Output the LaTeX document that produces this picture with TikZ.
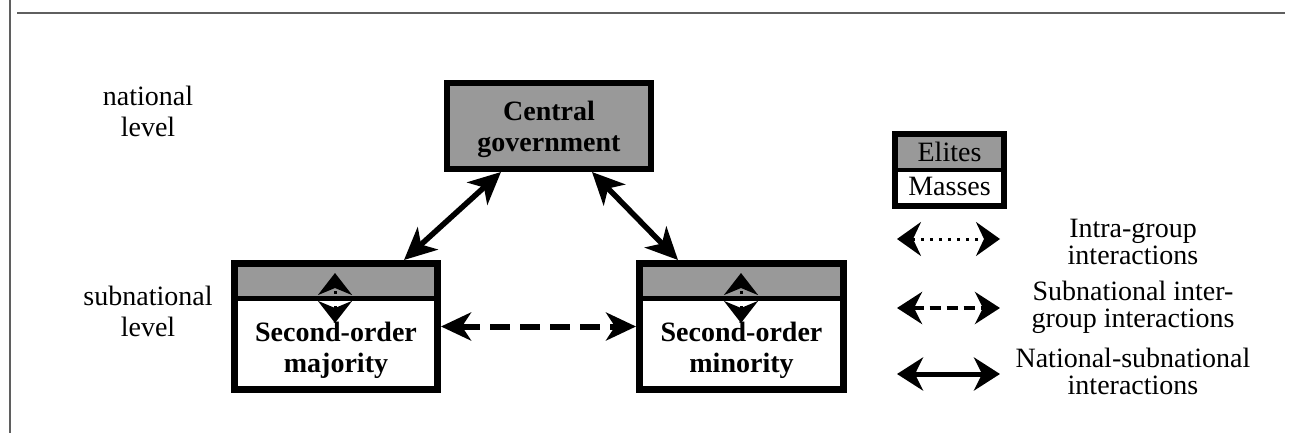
\documentclass[tikz,border=0pt]{standalone}
\usepackage{fontspec}
\setmainfont{Liberation Serif}
\usetikzlibrary{arrows.meta}
\definecolor{eliteGray}{RGB}{153,153,153}
\definecolor{frameGray}{RGB}{95,95,95}
\tikzset{
  boxlabel/.style={font=\fontsize{28}{31}\selectfont\bfseries, align=center, inner sep=0pt},
  levellabel/.style={font=\fontsize{28}{31}\selectfont, align=center, inner sep=0pt},
  legendtext/.style={font=\fontsize{28}{27.5}\selectfont, align=center, inner sep=0pt},
  legendword/.style={font=\fontsize{28}{31}\selectfont, inner sep=0pt, anchor=base},
  groupbox/.style={draw, fill=white, line width=7pt, minimum width=204pt, minimum height=126pt, inner sep=0pt},
  natarrow/.style={line width=5.5pt, {Stealth[length=32pt,width=30pt,inset=9pt]}-{Stealth[length=32pt,width=30pt,inset=9pt]}},
  interarrow/.style={line width=6pt, dash pattern=on 20pt off 10pt, {Stealth[length=30pt,width=28pt,inset=9pt]}-{Stealth[length=30pt,width=28pt,inset=9pt]}},
  intraarrow/.style={line width=3pt, dash pattern=on 2.5pt off 5pt, {Stealth[length=22pt,width=34pt,inset=7pt]}-{Stealth[length=22pt,width=34pt,inset=7pt]}},
  legdotted/.style={line width=3pt, dash pattern=on 3pt off 6pt, {Stealth[length=24pt,width=34pt,inset=8pt]}-{Stealth[length=24pt,width=34pt,inset=8pt]}},
  legdashed/.style={line width=4.5pt, dash pattern=on 11pt off 6pt, {Stealth[length=25pt,width=32pt,inset=8pt]}-{Stealth[length=25pt,width=32pt,inset=8pt]}},
  legsolid/.style={line width=5pt, {Stealth[length=26pt,width=33pt,inset=8pt]}-{Stealth[length=26pt,width=33pt,inset=8pt]}},
}
\begin{document}
\begin{tikzpicture}[x=1pt,y=-1pt]
\useasboundingbox (0,0) rectangle (1291,433);
% frame lines
\draw[frameGray, line width=1.8pt] (9.8,0) -- (9.8,433);
\draw[frameGray, line width=2pt] (17,13) -- (1285,13);

% level labels
\node[levellabel] (natlvl) at (148,111) {national\\level};
\node[levellabel] (sublvl) at (148,311) {subnational\\level};

% central government
\node[draw, fill=eliteGray, line width=6pt, minimum width=204pt, minimum height=86pt, inner sep=0pt] (cg) at (549,126) {};
\node[boxlabel] (cgtxt) at (549,129) {Central\\government};

% second-order majority
\node[groupbox, minimum width=203pt] (maj) at (336,326.5) {};
\fill[eliteGray] (238,267) rectangle (434,298);
\draw[line width=5pt] (231,298) -- (441,298);
\node[boxlabel] (majtxt) at (336,350.5) {Second-order\\majority};

% second-order minority
\node[groupbox] (minb) at (741.5,326.5) {};
\fill[eliteGray] (643,267) rectangle (840,298);
\draw[line width=5pt] (636,298) -- (847,298);
\node[boxlabel] (mintxt) at (741.5,350.5) {Second-order\\minority};

% connectors
\draw[natarrow] ([xshift=-48pt]cg.south) -- ([xshift=68pt]maj.north);
\draw[natarrow] ([xshift=43pt]cg.south) -- ([xshift=-63.5pt]minb.north);
\draw[interarrow] (maj.east) -- (minb.west);
\draw[intraarrow] ([xshift=-1pt,yshift=3.5pt]maj.center) -- ([xshift=-1pt,yshift=53.5pt]maj.center);
\draw[intraarrow] ([xshift=-0.5pt,yshift=3.5pt]minb.center) -- ([xshift=-0.5pt,yshift=53.5pt]minb.center);

% legend box
\node[draw, fill=white, line width=6pt, minimum width=109pt, minimum height=72pt, inner sep=0pt] (legbox) at (949.5,170) {};
\fill[eliteGray] (898,137) rectangle (1001,170);
\draw[line width=4pt] (892,170) -- (1007,170);
\node[legendword] (elites) at (949.5,162) {Elites};
\node[legendword] (masses) at (949.5,196) {Masses};

% legend arrows
\coordinate (l1a) at (897,239);
\coordinate (l1b) at (1000,239);
\coordinate (l2a) at (897,308);
\coordinate (l2b) at (1000,308);
\coordinate (l3a) at (897,374);
\coordinate (l3b) at (1000,374);
\draw[legdotted] (l1a) -- (l1b);
\draw[legdashed] (l2a) -- (l2b);
\draw[legsolid] (l3a) -- (l3b);

% legend texts
\node[legendtext] (t1) at (1133,242) {Intra-group\\interactions};
\node[legendtext] (t2) at (1133,307.5) {Subnational inter-\\group interactions};
\node[legendtext] (t3) at (1133,371.5) {National-subnational\\interactions};
\end{tikzpicture}
\end{document}
